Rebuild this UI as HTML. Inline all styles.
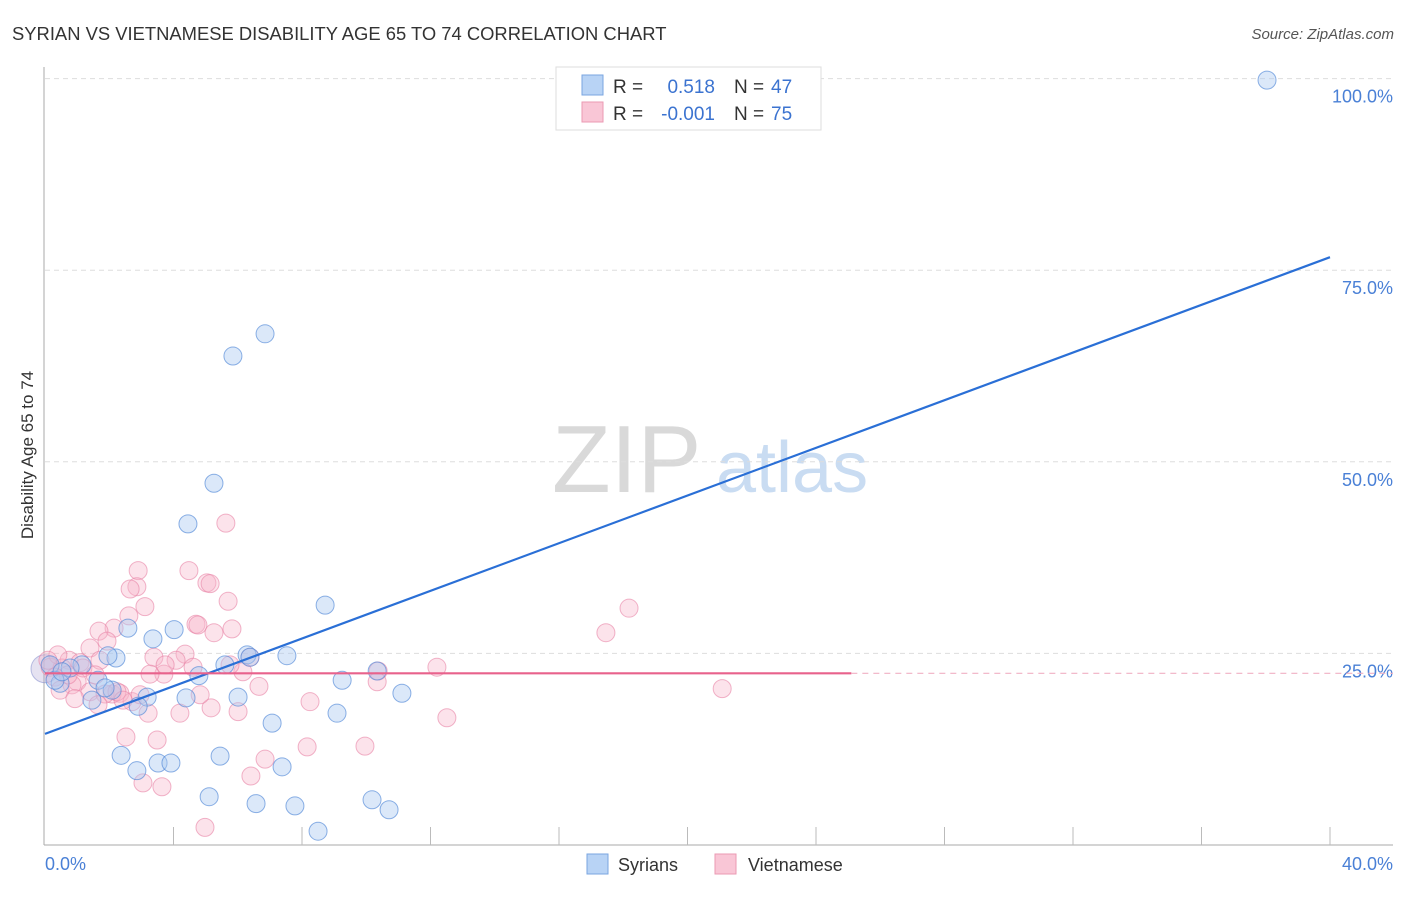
<!DOCTYPE html>
<html><head><meta charset="utf-8"><style>
body{margin:0;background:#fff;font-family:"Liberation Sans",sans-serif;}
svg text{font-family:"Liberation Sans",sans-serif;}
</style></head><body>
<svg id="chart" width="1406" height="892" xmlns="http://www.w3.org/2000/svg">
<text x="12" y="40" font-size="18.4" fill="#333">SYRIAN VS VIETNAMESE DISABILITY AGE 65 TO 74 CORRELATION CHART</text>
<text x="1394" y="39" font-size="15" fill="#555" font-style="italic" text-anchor="end">Source: ZipAtlas.com</text>
<g>
<text x="552" y="492" font-size="96" font-family="Liberation Serif" fill="#d9d9d9">ZIP</text>
<text x="716" y="492" font-size="72" fill="#c9dcf2">atlas</text>
</g>
<g id="grid"></g>
<g id="axes"></g>
<g id="pts"></g>
<g id="lines"></g>
<text transform="translate(33,455) rotate(-90)" font-size="17" fill="#333" text-anchor="middle">Disability Age 65 to 74</text>
<g>
<rect x="556" y="67" width="265" height="63" fill="#fff" stroke="#ddd"/>
<rect x="582" y="75" width="21" height="20" fill="#b8d3f5" stroke="#7aa6e0"/>
<rect x="582" y="102" width="21" height="20" fill="#f9c6d6" stroke="#eb9ab3"/>
<text x="613" y="93" font-size="19" fill="#333">R =</text>
<text x="715" y="93" font-size="19" fill="#3b73d0" text-anchor="end">0.518</text>
<text x="734" y="93" font-size="19" fill="#333">N =</text>
<text x="771" y="93" font-size="19" fill="#3b73d0">47</text>
<text x="613" y="120" font-size="19" fill="#333">R =</text>
<text x="715" y="120" font-size="19" fill="#3b73d0" text-anchor="end">-0.001</text>
<text x="734" y="120" font-size="19" fill="#333">N =</text>
<text x="771" y="120" font-size="19" fill="#3b73d0">75</text>
</g>
<g>
<rect x="587" y="854" width="21" height="20" fill="#b8d3f5" stroke="#7aa6e0"/>
<text x="618" y="871" font-size="18" fill="#333">Syrians</text>
<rect x="715" y="854" width="21" height="20" fill="#f9c6d6" stroke="#eb9ab3"/>
<text x="748" y="871" font-size="18" fill="#333">Vietnamese</text>
</g>
</svg>
<script>
const syrX=[38.04,6.85,5.85,5.26,4.45,8.72,4.02,2.58,3.36,6.29,7.53,2.21,1.96,1.15,5.60,4.79,10.34,9.25,1.65,0.47,11.11,6.01,3.18,4.39,1.46,2.90,9.09,7.07,2.37,5.45,3.52,3.92,2.86,7.38,5.11,6.57,7.78,10.18,10.71,8.50,0.16,0.78,0.31,2.09,1.87,6.38,0.53];
const syrY=[99.8,66.7,63.8,47.2,41.9,31.3,28.1,28.3,26.9,24.8,24.7,24.4,24.7,23.5,23.5,22.1,22.7,21.5,21.5,21.1,19.8,19.3,19.3,19.2,18.9,18.1,17.2,15.9,11.7,11.6,10.7,10.7,9.7,10.2,6.3,5.4,5.1,5.9,4.6,1.8,23.5,23.1,21.5,20.2,20.5,24.5,22.6];
const vieX=[5.63,2.90,4.48,2.86,2.65,5.04,5.14,3.11,5.70,2.61,4.70,4.76,18.18,17.46,2.15,1.68,5.82,5.26,1.40,1.93,3.39,4.36,4.08,6.38,0.75,1.09,1.71,12.20,0.16,0.53,10.37,3.70,3.27,4.61,6.16,0.31,1.00,10.34,0.84,6.66,21.08,0.47,1.40,0.93,2.09,2.33,1.87,2.24,2.71,8.25,5.17,3.21,4.20,6.01,12.51,2.52,3.49,9.96,8.16,6.85,6.41,3.05,3.64,4.98,0.72,1.18,0.40,3.74,5.76,2.96,2.43,1.65,4.83,0.09,1.56];
const vieY=[42.0,35.8,35.8,33.7,33.4,34.2,34.1,31.1,31.8,29.9,28.8,28.7,30.9,27.7,28.3,27.9,28.2,27.7,25.7,26.6,24.5,24.9,24.1,24.5,24.1,23.8,24.1,23.2,23.2,23.1,22.7,22.3,22.3,23.2,22.6,21.9,21.3,21.3,20.9,20.7,20.4,20.2,20.0,19.1,19.7,19.8,19.7,20.0,18.7,18.7,17.9,17.2,17.2,17.4,16.6,14.1,13.7,12.9,12.8,11.2,9.0,8.1,7.6,2.3,22.2,23.1,24.8,23.5,23.5,19.6,18.9,18.3,19.6,24.1,22.2];
const yTicks=[25,50,75,100];
const yTickLabels=["25.0%","50.0%","75.0%","100.0%"];
const xTicks=[0,4,8,12,16,20,24,28,32,36,40];
const syrLine=[14.5,76.7];
const vieLine=[22.4,22.4];
const vieSolidEnd=25.1;

const NS="http://www.w3.org/2000/svg";
const sx=v=>45+v/40*1285;
const sy=v=>845-v/25*191.6;
function mk(tag,attrs,parent){const e=document.createElementNS(NS,tag);for(const k in attrs)e.setAttribute(k,attrs[k]);parent.appendChild(e);return e;}
const grid=document.getElementById('grid'),axes=document.getElementById('axes'),pts=document.getElementById('pts'),lines=document.getElementById('lines');
yTicks.forEach((t,i)=>{
 const l=mk('line',{x1:45,x2:1393,y1:sy(t),y2:sy(t),stroke:'#ddd','stroke-dasharray':'5,4'},grid);
 
 
 const tx=mk('text',{x:1393,y:sy(t)+24,'font-size':18,fill:'#4a80d6','text-anchor':'end'},grid);
 tx.textContent=yTickLabels[i];
 
 
});
mk('line',{x1:44,x2:44,y1:67,y2:845,stroke:'#aaa'},axes);
mk('line',{x1:44,x2:1393,y1:845,y2:845,stroke:'#aaa'},axes);
xTicks.forEach(t=>{if(t===0)return;const l=mk('line',{x1:sx(t),x2:sx(t),y1:827,y2:845,stroke:'#bbb'},axes);
 
 });
const x0=mk('text',{x:45,y:870,'font-size':18,fill:'#4a80d6'},axes);x0.textContent='0.0%';


const x1=mk('text',{x:1393,y:870,'font-size':18,fill:'#4a80d6','text-anchor':'end'},axes);x1.textContent='40.0%';


let c=mk('circle',{cx:sx(0),cy:sy(23),r:14,fill:'rgba(170,160,210,0.3)',stroke:'rgba(120,130,200,0.5)'},pts);


vieX.forEach((x,i)=>{const p=mk('circle',{cx:sx(x),cy:sy(vieY[i]),r:9,fill:'rgba(247,182,202,0.38)',stroke:'rgba(232,130,165,0.6)','stroke-width':1},pts);
 
 });
syrX.forEach((x,i)=>{const p=mk('circle',{cx:sx(x),cy:sy(syrY[i]),r:9,fill:'rgba(169,200,240,0.42)',stroke:'rgba(80,135,215,0.65)','stroke-width':1},pts);
 
 });
let L=mk('line',{x1:sx(0),y1:sy(syrLine[0]),x2:sx(40),y2:sy(syrLine[1]),stroke:'#2a6fd6','stroke-width':2.2},lines);


const vy=x=>vieLine[0]+(vieLine[1]-vieLine[0])*x/40;
L=mk('line',{x1:sx(0),y1:sy(vy(0)),x2:sx(vieSolidEnd),y2:sy(vy(vieSolidEnd)),stroke:'#e8628c','stroke-width':2.2},lines);


L=mk('line',{x1:sx(vieSolidEnd),y1:sy(vy(vieSolidEnd)),x2:1393,y2:sy(vy(42.1)),stroke:'#f0b0c4','stroke-width':1.2,'stroke-dasharray':'6,5'},lines);


</script>
</body></html>
